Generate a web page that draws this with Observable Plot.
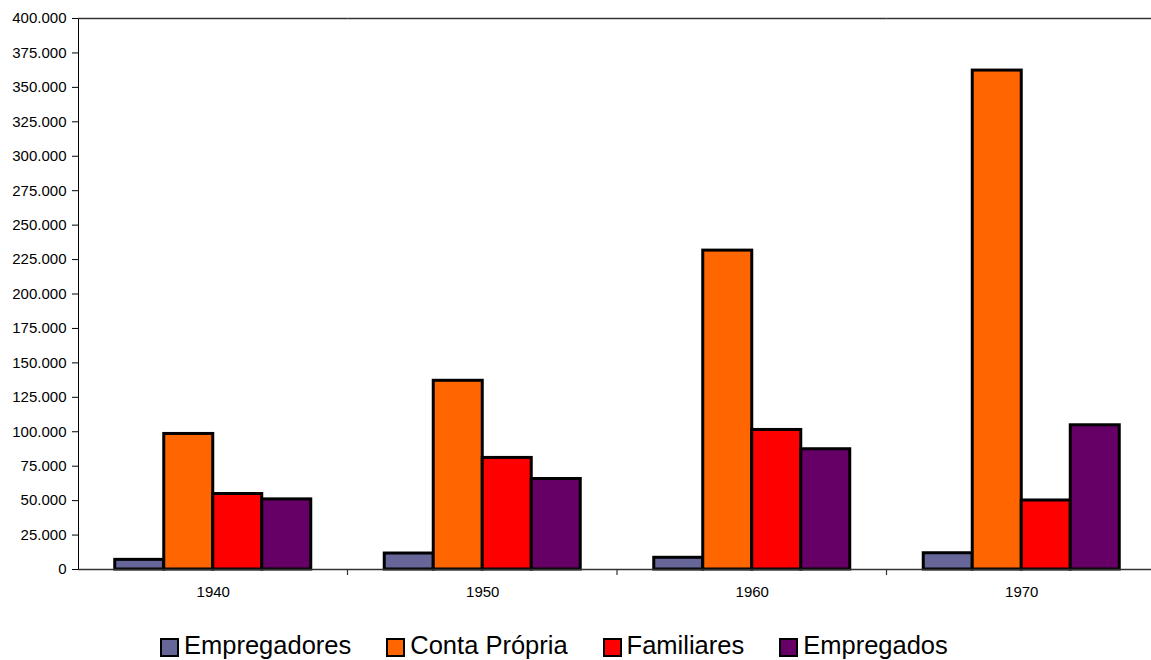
<!DOCTYPE html>
<html>
<head>
<meta charset="utf-8">
<script src="https://cdn.jsdelivr.net/npm/d3@7"></script>
<script src="https://cdn.jsdelivr.net/npm/@observablehq/plot@0.6"></script>
<style>
  html, body { margin: 0; padding: 0; background: #fff; overflow: hidden; }
  #chart { width: 1151px; height: 660px; overflow: hidden; font-family: "Liberation Sans", Arial, sans-serif; }
  #chart svg { display: block; max-width: none !important; }
  #legend { display: flex; align-items: center; height: 48px; padding-top: 19px; box-sizing: border-box; padding-left: 160px; gap: 35px; }
  .item { display: flex; align-items: center; font-size: 25.5px; line-height: 25px; color: #000; }
  .swatch { position: relative; top: 2px; width: 15px; height: 15px; border: 2px solid #000; margin-right: 5px; box-sizing: content-box; }
</style>
</head>
<body>
<div id="chart"></div>
<script>
// Census years and worker categories
const years = ["1940", "1950", "1960", "1970"];
const series = ["Empregadores", "Conta Própria", "Familiares", "Empregados"];
const colors = ["#666699", "#FF6600", "#FF0000", "#660066"];

// Values per category, one entry per year
const empregadores = [7000, 11600, 8500, 11800];
const contaPropria = [98400, 137000, 231500, 362200];
const familiares = [54800, 81000, 101300, 50100];
const empregados = [50900, 65700, 87300, 104700];

const yTicks = d3.range(0, 400001, 25000);

const valuesBySeries = [empregadores, contaPropria, familiares, empregados];
const data = years.flatMap((year, i) =>
  series.map((s, j) => ({ year, series: s, value: valuesBySeries[j][i] }))
);

const fmt = d => d3.format(",")(d).replace(/,/g, ".");

const chart = Plot.plot({
  width: 1156,
  height: 612,
  marginLeft: 78,
  marginRight: 0,
  marginTop: 18,
  marginBottom: 43,
  style: { fontFamily: "'Liberation Sans', Arial, sans-serif", fontSize: "15px", color: "#000", background: "#fff", maxWidth: "none" },
  fx: { domain: years, padding: 0, label: null, tickSize: 0, tickPadding: 17, round: false },
  x: { domain: series, paddingInner: 0, paddingOuter: 0.75, axis: null, round: false },
  y: { domain: [0, 400000], ticks: yTicks, tickFormat: fmt, tickSize: 6, tickPadding: 6, label: null, line: true },
  color: { domain: series, range: colors },
  marks: [
    Plot.ruleY([400000], { stroke: "#333", strokeWidth: 1.5 }),
    Plot.barY(data, {
      fx: "year",
      x: "series",
      y: "value",
      fill: "series",
      stroke: "#000",
      strokeWidth: 3
    }),
    Plot.ruleY([0], { stroke: "#333", strokeWidth: 1.5 })
  ]
});

document.getElementById("chart").appendChild(chart);

// Small tick marks between the year groups on the horizontal axis
const fxScale = chart.scale("fx");
const yScale = chart.scale("y");
const y0 = yScale.apply(0);
d3.select(chart).append("g")
  .attr("stroke", "#333")
  .attr("stroke-width", 1.2)
  .selectAll("line")
  .data(years.slice(1))
  .join("line")
  .attr("x1", d => fxScale.apply(d))
  .attr("x2", d => fxScale.apply(d))
  .attr("y1", y0)
  .attr("y2", y0 + 6);

// Style the y axis line to match the frame
d3.select(chart).selectAll("[aria-label='y-axis line'] path, [aria-label='y-axis line'] line")
  .attr("stroke", "#333").attr("stroke-width", 1.5);

// Legend below the chart
const legend = d3.select("#chart").append("div").attr("id", "legend");
series.forEach((s, i) => {
  const item = legend.append("div").attr("class", "item");
  item.append("div").attr("class", "swatch").style("background", colors[i]);
  item.append("span").text(s);
});
</script>
</body>
</html>
